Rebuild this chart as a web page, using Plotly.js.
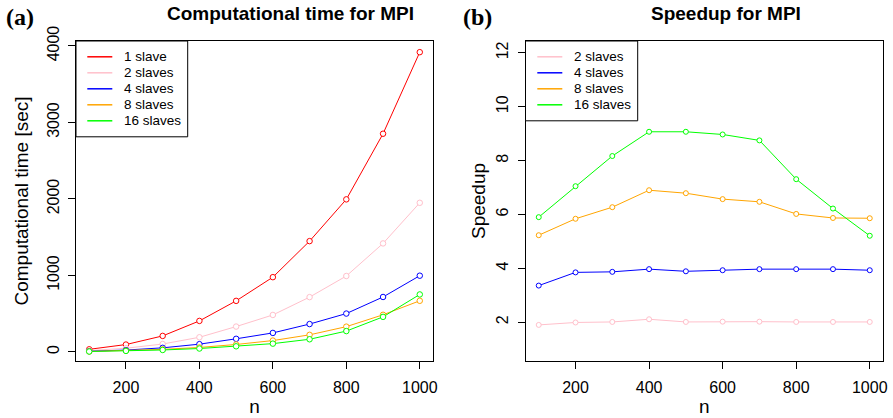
<!DOCTYPE html>
<html>
<head>
<meta charset="utf-8">
<script src="https://cdn.plot.ly/plotly-3.0.1.min.js"></script>
<style>html,body{margin:0;padding:0;background:#fff;}#chart{width:893px;height:418px;}</style>
</head>
<body>
<div id="chart"></div>
<script>
// ---- data ----
const n = [100, 200, 300, 400, 500, 600, 700, 800, 900, 1000];

const timeNames = ["1 slave", "2 slaves", "4 slaves", "8 slaves", "16 slaves"];
const time1  = [35, 97, 210, 406, 668, 978, 1449, 1995, 2853, 3919];
const time2  = [18, 49, 104, 192, 332, 484, 717, 993, 1419, 1950];
const time4  = [10, 25, 54, 102, 172, 249, 365, 502, 719, 997];
const time8  = [7, 17, 34, 59, 98, 149, 224, 331, 486, 669];
const time16 = [6, 14, 26, 45, 74, 109, 166, 273, 459, 752];

const speedNames = ["2 slaves", "4 slaves", "8 slaves", "16 slaves"];
const speed2  = [1.90, 1.99, 2.01, 2.11, 2.01, 2.02, 2.02, 2.01, 2.01, 2.01];
const speed4  = [3.36, 3.85, 3.87, 3.97, 3.89, 3.93, 3.97, 3.97, 3.97, 3.93];
const speed8  = [5.23, 5.84, 6.27, 6.90, 6.79, 6.57, 6.47, 6.02, 5.87, 5.86];
const speed16 = [5.90, 7.05, 8.17, 9.07, 9.07, 8.97, 8.75, 7.31, 6.22, 5.21];

const xTicks = [200, 400, 600, 800, 1000];
const timeTicks = [0, 1000, 2000, 3000, 4000];
const speedTicks = [2, 4, 6, 8, 10, 12];

// ---- styles ----
const timeColors = ["#ff0000", "#ffc0cb", "#0000ff", "#ffa500", "#00ff00"];
const speedColors = ["#ffc0cb", "#0000ff", "#ffa500", "#00ff00"];
const FONT = "Liberation Sans, Arial, Helvetica, sans-serif";

const timeSeries = [time1, time2, time4, time8, time16];
const speedSeries = [speed2, speed4, speed8, speed16];

const traces = [];
timeSeries.forEach((ys, i) => traces.push({
  x: n, y: ys, xaxis: "x", yaxis: "y", type: "scatter", mode: "lines",
  name: timeNames[i], showlegend: false, line: {color: timeColors[i], width: 1}
}));
speedSeries.forEach((ys, i) => traces.push({
  x: n, y: ys, xaxis: "x2", yaxis: "y2", type: "scatter", mode: "lines",
  name: speedNames[i], showlegend: false, line: {color: speedColors[i], width: 1}
}));
timeSeries.forEach((ys, i) => traces.push({
  x: n, y: ys, xaxis: "x", yaxis: "y", type: "scatter", mode: "markers",
  name: timeNames[i], showlegend: false, hoverinfo: "skip",
  marker: {symbol: "circle", size: 5.5, color: "#ffffff", line: {color: timeColors[i], width: 1}}
}));
speedSeries.forEach((ys, i) => traces.push({
  x: n, y: ys, xaxis: "x2", yaxis: "y2", type: "scatter", mode: "markers",
  name: speedNames[i], showlegend: false, hoverinfo: "skip",
  marker: {symbol: "circle", size: 5, color: "#ffffff", line: {color: speedColors[i], width: 1}}
}));

// ---- geometry helpers (pixel -> paper) ----
const M = {l: 76, r: 10, t: 41, b: 57};
const W = 893, H = 418;
const PW = W - M.l - M.r, PH = H - M.t - M.b;
const px = v => (v - M.l) / PW;
const py = v => 1 - (v - M.t) / PH;

// ---- R-style legends (box + line keys + labels) ----
const shapes = [];
const annotations = [];
function addLegend(names, colors, left, right, top, rowStep, firstRow, keyL, keyR, textL) {
  shapes.push({type: "rect", xref: "paper", yref: "paper",
    x0: px(left), x1: px(right), y0: py(top), y1: py(firstRow + rowStep * (names.length - 1) + 16),
    line: {color: "#000", width: 1}, fillcolor: "#fff", layer: "above"});
  names.forEach((nm, i) => {
    const yy = firstRow + rowStep * i;
    shapes.push({type: "line", xref: "paper", yref: "paper",
      x0: px(keyL), x1: px(keyR), y0: py(yy), y1: py(yy),
      line: {color: colors[i], width: 1.5}, layer: "above"});
    annotations.push({text: nm, xref: "paper", yref: "paper", x: px(textL), y: py(yy),
      xanchor: "left", yanchor: "middle", showarrow: false,
      font: {family: FONT, size: 13.5, color: "#000"}});
  });
}
addLegend(timeNames, timeColors, 76, 187.7, 41, 16, 56.8, 87.3, 112.3, 121.5);
addLegend(speedNames, speedColors, 525.5, 637.7, 41, 16, 56.8, 537.3, 562.3, 571.5);

const axisCommon = {
  showline: true, mirror: true, linecolor: "#000", linewidth: 1,
  ticks: "outside", ticklen: 7, tickwidth: 1, tickcolor: "#000",
  showgrid: false, zeroline: false,
  tickfont: {family: FONT, size: 16, color: "#000"},
  automargin: false
};

const titleFont = {family: FONT, size: 19, color: "#000"};
annotations.push(
  {text: "<b>Computational time for MPI</b>", xref: "paper", yref: "paper", x: px(290), y: py(14),
   xanchor: "center", yanchor: "middle", showarrow: false, font: titleFont},
  {text: "<b>Speedup for MPI</b>", xref: "paper", yref: "paper", x: px(725.5), y: py(14),
   xanchor: "center", yanchor: "middle", showarrow: false, font: titleFont},
  {text: "<b>(a)</b>", xref: "paper", yref: "paper", x: px(20), y: py(17),
   xanchor: "center", yanchor: "middle", showarrow: false, font: {family: "Liberation Serif, Times New Roman, serif", size: 24, color: "#000"}},
  {text: "<b>(b)</b>", xref: "paper", yref: "paper", x: px(477), y: py(17),
   xanchor: "center", yanchor: "middle", showarrow: false, font: {family: "Liberation Serif, Times New Roman, serif", size: 24, color: "#000"}}
);

const layout = {
  width: W, height: H,
  margin: M,
  paper_bgcolor: "#fff", plot_bgcolor: "#fff",
  font: {family: FONT, color: "#000"},
  showlegend: false,
  xaxis: Object.assign({}, axisCommon, {
    domain: [0, px(433)], range: [64, 1036], tickvals: xTicks, ticklabelstandoff: 5,
    title: {text: "n", font: titleFont, standoff: 0}
  }),
  yaxis: Object.assign({}, axisCommon, {
    range: [-118, 4065], tickvals: timeTicks, tickangle: -90, ticklabelstandoff: 3,
    title: {text: "Computational time [sec]", font: titleFont, standoff: 10}
  }),
  xaxis2: Object.assign({}, axisCommon, {
    domain: [px(525.5), 1], range: [64, 1036], tickvals: xTicks, ticklabelstandoff: 5, anchor: "y2",
    title: {text: "n", font: titleFont, standoff: 0}
  }),
  yaxis2: Object.assign({}, axisCommon, {
    range: [0.56, 12.44], tickvals: speedTicks, tickangle: -90, ticklabelstandoff: 3, anchor: "x2",
    title: {text: "Speedup", font: titleFont, standoff: 3}
  }),
  shapes: shapes,
  annotations: annotations
};

Plotly.newPlot("chart", traces, layout, {displayModeBar: false, staticPlot: true});
</script>
</body>
</html>
